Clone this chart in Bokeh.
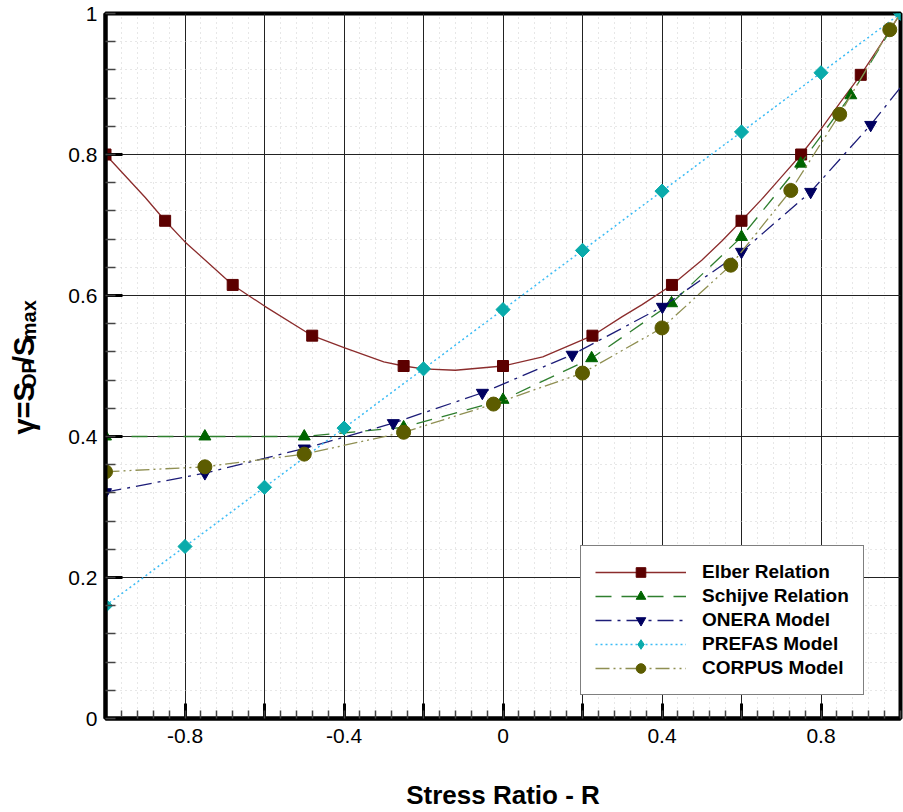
import numpy as np
from bokeh.plotting import figure
from bokeh.layouts import row
from bokeh.models import (FixedTicker, Legend, LegendItem, Range1d,
                          CustomJSTickFormatter)
from bokeh.core.properties import value
from bokeh.embed import file_html
from bokeh.resources import INLINE

# ---- data: crack-opening ratio gamma = S_op/S_max versus stress ratio R ----
# Elber relation (markers and smooth curve samples)
elber_r = [-1.0, -0.85, -0.68, -0.48, -0.25, 0.0, 0.225, 0.425, 0.6, 0.75, 0.9]
elber_g = [0.800, 0.706, 0.615, 0.543, 0.500, 0.500, 0.543, 0.615, 0.706, 0.800, 0.913]
elber_curve_r = [-1.0, -0.9, -0.85, -0.8, -0.68, -0.6, -0.48, -0.4, -0.3, -0.25, -0.2,
                 -0.12, 0.0, 0.1, 0.225, 0.3, 0.35, 0.425, 0.5, 0.55, 0.6, 0.65, 0.7,
                 0.75, 0.8, 0.85, 0.9, 0.95, 1.0]
elber_curve_g = [0.800, 0.739, 0.706, 0.676, 0.615, 0.585, 0.543, 0.526, 0.506, 0.500,
                 0.496, 0.494, 0.500, 0.513, 0.543, 0.570, 0.587, 0.615, 0.650, 0.677,
                 0.706, 0.736, 0.768, 0.800, 0.836, 0.875, 0.913, 0.956, 1.0]

# Schijve relation
schijve_r = [-1.0, -0.75, -0.5, -0.25, 0.0, 0.223, 0.424, 0.6, 0.749, 0.875]
schijve_g = [0.400, 0.400, 0.400, 0.413, 0.452, 0.511, 0.589, 0.683, 0.787, 0.884]
schijve_end = (1.0, 1.0)

# ONERA model
onera_r = [-1.0, -0.75, -0.5, -0.276, -0.052, 0.174, 0.401, 0.6, 0.774, 0.925]
onera_g = [0.321, 0.348, 0.383, 0.419, 0.462, 0.516, 0.584, 0.662, 0.747, 0.842]
onera_end = (1.0, 0.895)

# PREFAS model
prefas_r = [-1.0, -0.8, -0.6, -0.4, -0.2, 0.0, 0.2, 0.4, 0.6, 0.8, 1.0]
prefas_g = [0.160, 0.244, 0.328, 0.412, 0.496, 0.580, 0.664, 0.748, 0.832, 0.916, 1.000]

# CORPUS model
corpus_r = [-1.0, -0.75, -0.5, -0.25, -0.024, 0.2, 0.4, 0.573, 0.724, 0.847, 0.973]
corpus_g = [0.350, 0.357, 0.375, 0.406, 0.446, 0.490, 0.554, 0.643, 0.749, 0.857, 0.977]
corpus_end = (1.0, 1.0)

FONT = "Liberation Sans"
W, H = 903, 812
LABEL_W = 55          # strip on the left that holds the rotated y title

p = figure(width=W - LABEL_W, height=H, output_backend="svg", toolbar_location=None,
           x_range=Range1d(-1, 1), y_range=Range1d(0, 1),
           min_border_left=105 - LABEL_W, min_border_right=3, min_border_top=13,
           min_border_bottom=94, background_fill_color="white",
           border_fill_color="white")

p.outline_line_color = "black"
p.outline_line_width = 4

# ticks: major every 0.2, minor every 0.04, pointing inwards
major = [round(-1 + 0.2 * i, 2) for i in range(11)]
minor = [round(-1 + 0.04 * i, 2) for i in range(51)]
p.xaxis.ticker = FixedTicker(ticks=major, minor_ticks=minor)
p.yaxis.ticker = FixedTicker(ticks=[round(0.2 * i, 2) for i in range(6)],
                             minor_ticks=[round(0.04 * i, 2) for i in range(26)])

p.xaxis.formatter = CustomJSTickFormatter(code="""
    const k = Math.round(tick * 10);
    if (Math.abs(k) % 4 != 0 || Math.abs(k) == 10) { return ""; }
    return String(Number(tick.toFixed(1)));
""")
p.yaxis.formatter = CustomJSTickFormatter(code="""
    return String(Number(tick.toFixed(1)));
""")

for ax in (p.xaxis[0], p.yaxis[0]):
    ax.axis_line_width = 4
    ax.axis_line_color = "black"
    ax.major_tick_out = 0
    ax.minor_tick_out = 0
    ax.major_tick_line_width = 3
    ax.minor_tick_line_width = 1.5
    ax.major_tick_line_color = "black"
    ax.minor_tick_line_color = "#444444"
    ax.major_label_text_font = FONT
    ax.major_label_text_font_size = "21px"
    ax.major_label_text_color = "black"

p.xaxis.major_tick_in = 15
p.xaxis.minor_tick_in = 8
p.yaxis.major_tick_in = 17
p.yaxis.minor_tick_in = 10
p.xaxis.major_label_standoff = 10
p.yaxis.major_label_standoff = 8

p.xaxis.axis_label = "Stress Ratio - R"
p.xaxis.axis_label_text_font = FONT
p.xaxis.axis_label_text_font_style = "bold"
p.xaxis.axis_label_text_font_size = "26px"
p.xaxis.axis_label_text_color = "black"
p.xaxis.axis_label_standoff = 34

# grid
for g in (p.xgrid[0], p.ygrid[0]):
    g.grid_line_color = "#222222"
    g.grid_line_width = 1
    g.minor_grid_line_color = "#cfcfcf"
    g.minor_grid_line_dash = "1 4"
    g.minor_grid_line_width = 1

# ---- series ----
l_elber = p.line(elber_curve_r, elber_curve_g, line_color="#8b2c2c", line_width=1.3)
m_elber = p.scatter(elber_r, elber_g, marker="square", size=11,
                    fill_color="#5c0000", line_color="#5c0000")

l_schijve = p.line(schijve_r + [schijve_end[0]], schijve_g + [schijve_end[1]],
                   line_color="#2f7f2f", line_width=1.3, line_dash="16 10")
m_schijve = p.scatter(schijve_r, schijve_g, marker="triangle", size=12,
                      fill_color="#006400", line_color="#006400")

l_onera = p.line(onera_r + [onera_end[0]], onera_g + [onera_end[1]],
                 line_color="#1c1c78", line_width=1.3, line_dash="16 6 3 6")
m_onera = p.scatter(onera_r, onera_g, marker="inverted_triangle", size=12,
                    fill_color="#000060", line_color="#000060")

l_prefas = p.line(prefas_r, prefas_g, line_color="#3cbcf5", line_width=1.5,
                  line_dash="2 3")
# narrow diamonds sit fully inside the rotated squares; they provide the legend swatch
k_prefas = p.scatter(prefas_r, prefas_g, marker="diamond", size=13,
                     fill_color="#0aabab", line_color="#0aabab")
m_prefas = p.scatter(prefas_r, prefas_g, marker="square", angle=np.pi / 4, size=10,
                     fill_color="#0aabab", line_color="#0aabab")

l_corpus = p.line(corpus_r + [corpus_end[0]], corpus_g + [corpus_end[1]],
                  line_color="#8f8f52", line_width=1.3, line_dash="14 4 2 4 2 4")
m_corpus = p.scatter(corpus_r, corpus_g, marker="circle", size=14,
                     fill_color="#5c5c00", line_color="#5c5c00")

legend = Legend(items=[
    LegendItem(label="Elber Relation", renderers=[l_elber, m_elber]),
    LegendItem(label="Schijve Relation", renderers=[l_schijve, m_schijve]),
    LegendItem(label="ONERA Model", renderers=[l_onera, m_onera]),
    LegendItem(label="PREFAS Model", renderers=[l_prefas, k_prefas]),
    LegendItem(label="CORPUS Model", renderers=[l_corpus, m_corpus]),
], location=(475, 23))
legend.margin = 0
legend.padding = 14
legend.spacing = 0
legend.glyph_width = 91
legend.glyph_height = 24
legend.label_height = 24
legend.label_standoff = 16
legend.label_text_font = FONT
legend.label_text_font_style = "bold"
legend.label_text_font_size = "19px"
legend.label_text_color = "black"
legend.border_line_color = "black"
legend.border_line_width = 1
legend.background_fill_color = "white"
legend.background_fill_alpha = 1
p.add_layout(legend)

# ---- rotated y title, built from pieces so that OP and max sit as subscripts ----
t = figure(width=LABEL_W, height=H, output_backend="svg", toolbar_location=None,
           title=None, x_axis_location=None, y_axis_location=None,
           x_range=Range1d(0, LABEL_W), y_range=Range1d(0, H),
           min_border=0, background_fill_color="white", border_fill_color="white")
t.grid.visible = False
t.outline_line_color = None

main_size, sub_size = 29, 20
pieces = [("γ=S", main_size, 0, 1.807), ("OP", sub_size, 5, 1.445),
          ("/S", main_size, 0, 0.945), ("max", sub_size, 5, 2.0)]
ypos = H - 485.0
for txt, size, shift, em in pieces:
    t.text(x=[23 + shift], y=[ypos], text=[txt], angle=np.pi / 2,
           text_font=value(FONT), text_font_style="bold",
           text_font_size=f"{size}px", text_align="left",
           text_baseline="alphabetic", text_color="black")
    ypos += em * size

layout = row(t, p, spacing=0)
open("out.html", "w").write(file_html(layout, INLINE))
